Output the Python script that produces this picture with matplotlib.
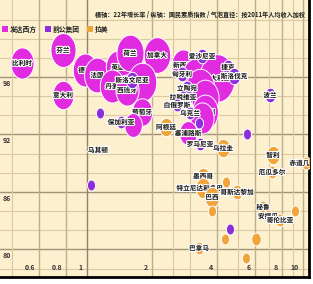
import matplotlib
matplotlib.use("Agg")
import numpy as np
import matplotlib.pyplot as plt
import matplotlib.patheffects as pe
from matplotlib.path import Path

plt.rcParams['font.family'] = ['Noto Sans CJK SC', 'DejaVu Sans']

title = "横轴：22年增长率 / 纵轴：国民素质指数 / 气泡直径：按2011年人均收入加权"
groups = ["发达西方", "前公集团", "拉美"]
group_colors = ["#E02BE0", "#8C2FDA", "#F0A43A"]

# developed West
w_names = ["比利时", "芬兰", "意大利", "德国", "法国", "英国", "荷兰", "加拿大",
           "丹麦", "", "西班牙", "葡萄牙", "", "新西兰", "", "澳大利亚", "挪威",
           "", "以色列", "", "塞浦路斯"]
w_growth = [0.500, 0.774, 0.774, 0.979, 1.113, 1.392, 1.581, 2.110,
            1.305, 1.798, 1.532, 1.798, 1.633, 2.782, 3.162, 4.00, 3.336,
            3.519, 3.519, 3.409, 2.935]
w_index = [99.46, 100.82, 96.12, 98.73, 98.21, 99.04, 100.51, 100.30,
           97.06, 97.48, 96.64, 94.35, 92.99, 99.25, 98.21, 97.90, 96.85,
           95.81, 94.35, 93.72, 92.15]
w_income = [34, 37, 31, 36, 38, 36, 40, 39,
            36, 42, 34, 30, 26, 34, 36, 52, 42,
            40, 38, 34, 26]

# former communist bloc
e_names = ["斯洛文尼亚", "保加利亚", "", "马其顿", "", "爱沙尼亚", "捷克", "斯洛伐克",
           "匈牙利", "立陶宛", "拉脱维亚", "白俄罗斯", "乌克兰", "", "罗马尼亚",
           "波兰", "", ""]
e_growth = [1.616, 1.437, 1.149, 1.124, 1.043, 3.409, 4.495, 4.794,
            2.754, 2.904, 2.782, 2.610, 2.998, 3.300, 3.336,
            7.036, 5.506, 4.592]
e_index = [97.69, 93.30, 94.24, 90.38, 86.73, 100.19, 99.04, 98.10,
           98.31, 96.85, 95.91, 95.08, 94.24, 93.20, 91.01,
           96.12, 92.05, 82.13]
e_income = [18, 14, 12, 8, 12, 16, 16, 18,
            16, 16, 14, 14, 14, 12, 14,
            16, 12, 12]

# Latin America
l_names = ["阿根廷", "乌拉圭", "智利", "厄瓜多尔", "赤道几内亚", "墨西哥",
           "特立尼达和多巴哥", "", "巴西", "哥斯达黎加", "", "秘鲁", "安提瓜",
           "哥伦比亚", "", "", "", "巴拿马", ""]
l_growth = [2.322, 4.262, 7.261, 7.186, 10.33, 3.444,
            3.444, 4.401, 3.792, 4.948, 3.792, 6.528, 6.887,
            7.826, 9.18, 4.353, 6.058, 3.300, 5.447]
l_index = [92.78, 90.59, 89.86, 88.08, 89.02, 87.67,
           86.41, 87.04, 85.47, 86.00, 84.01, 84.43, 83.49,
           83.07, 84.01, 81.09, 81.09, 80.15, 79.11]
l_income = [20, 20, 20, 14, 14, 18,
            22, 12, 22, 16, 12, 14, 14,
            14, 12, 12, 14, 14, 12]

x_ticks = [0.6, 0.8, 1, 2, 4, 6, 8, 10]
x_tick_labels = ["0.6", "0.8", "1", "2", "4", "6", "8", "10"]
x_minor = [0.45, 2.5, 3, 5, 7, 9]
y_ticks = [98, 92, 86, 80]
y_minor = [78, 82, 84, 88, 90, 94, 96, 100, 102, 104]

# tall ellipse marker (bubbles look vertically stretched)
t = np.linspace(0, 2 * np.pi, 64)
ell = Path(np.column_stack([np.cos(t) / 1.35, np.sin(t)]), closed=True)

W, H = 313, 284
fig = plt.figure(figsize=(W / 100, H / 100), dpi=100)
fig.patch.set_facecolor("white")
ax = fig.add_axes([0, 1 - 277 / H, 309 / W, 277 / H])
ax.set_facecolor("#FDF0CE")
ax.set_xscale("log")
ax.set_xlim(0.396, 10.67)
ax.set_ylim(77.12, 106.04)
ax.set_xticks([])
ax.set_yticks([])
ax.minorticks_off()
for s in ["left", "top"]:
    ax.spines[s].set_visible(False)
for s in ["right", "bottom"]:
    ax.spines[s].set_color("black")
    ax.spines[s].set_linewidth(2)

for v in y_minor:
    ax.axhline(v, color="#D9CAA2", lw=0.8, zorder=0)
for v in y_ticks:
    ax.axhline(v, color="#A0937A", lw=1.0, zorder=0)
for v in x_minor:
    ax.axvline(v, color="#D9CAA2", lw=0.8, zorder=0)
for v in x_ticks:
    ax.axvline(v, color="#8F846A" if v == 1 else "#BDAF8A", lw=1.0, zorder=0)

for v, lab in zip(x_ticks, x_tick_labels):
    ax.annotate(lab, (v, 0), xycoords=("data", "axes fraction"), xytext=(-4, 6),
                textcoords="offset pixels", ha="right", va="bottom",
                fontsize=5, fontweight="bold", color="#333333", zorder=50)
for v in y_ticks:
    ax.annotate(str(v), (0, v), xycoords=("axes fraction", "data"), xytext=(3, -3),
                textcoords="offset pixels", ha="left", va="top",
                fontsize=5, fontweight="bold", color="#333333", zorder=50)

halo = [pe.withStroke(linewidth=1.6, foreground="white")]
z = 2
sets = [(w_names, w_growth, w_index, w_income, group_colors[0]),
        (e_names, e_growth, e_index, e_income, group_colors[1]),
        (l_names, l_growth, l_index, l_income, group_colors[2])]
order = []
for names, gx, gy, inc, col in sets:
    for n, xv, yv, iv in zip(names, gx, gy, inc):
        order.append((n, xv, yv, iv, col))
for n, xv, yv, iv, col in order:
    ax.scatter([xv], [yv], s=(iv * 0.66) ** 2, marker=ell, color=col,
               edgecolors="white", linewidths=0.7, zorder=z)
    if n:
        ax.text(xv, yv, n, ha="center", va="center", fontsize=4.8,
                fontweight="bold", color="#111111", path_effects=halo,
                zorder=z + 1, clip_on=True)
    z += 2

ax.text(305 / 309, 1 - 14 / 277, title, transform=ax.transAxes, ha="right",
        va="center", fontsize=4.4, fontweight="bold", color="#222222", zorder=200)

lx = [2, 45, 87]
for x0, g, c in zip(lx, groups, group_colors):
    ax.scatter([(x0 + 3) / 309], [1 - 29 / 277], transform=ax.transAxes, marker="s",
               s=18, color=c, zorder=200, edgecolors="none")
    ax.text((x0 + 8) / 309, 1 - 29 / 277, g, transform=ax.transAxes, ha="left",
            va="center", fontsize=4.9, fontweight="bold", color="#222222", zorder=200)

fig.savefig("out.png", dpi=100, facecolor="white")
